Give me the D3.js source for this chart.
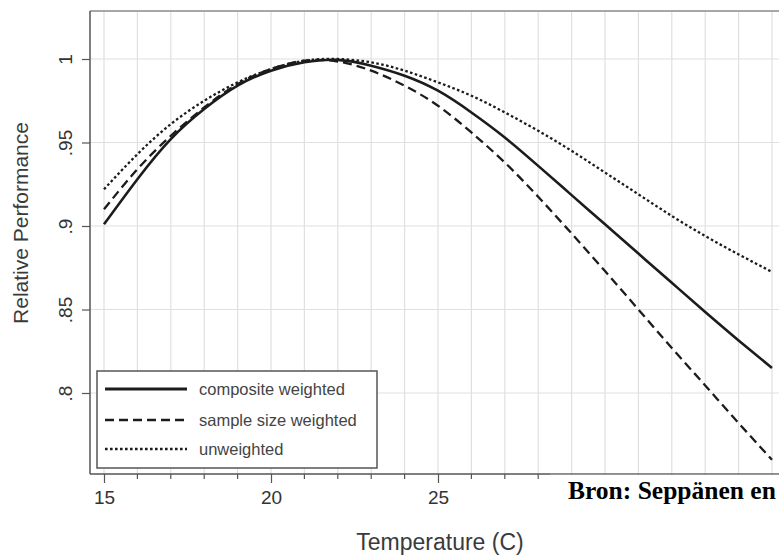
<!DOCTYPE html>
<html lang="en">
<head>
  <meta charset="UTF-8">
  <title>Relative Performance vs Temperature</title>
  <style>
    * { margin: 0; padding: 0; box-sizing: border-box; }
    body { background: #fff; width: 779px; height: 555px; overflow: hidden; }
    svg { display: block; font-family: "Liberation Sans", Arial, sans-serif; }
  </style>
</head>
<body>
  <div id="chart"></div>

  <script src="https://d3js.org/d3.v7.min.js"></script>
  <script>
    // values, one per degree
    const temps = [15, 16, 17, 18, 19, 20, 21, 22, 23, 24, 25, 26, 27, 28, 29, 30, 31, 32, 33, 34, 35];
    const composite = [0.901, 0.928, 0.952, 0.970, 0.984, 0.993, 0.998, 0.9995, 0.996, 0.990, 0.981,
                       0.968, 0.953, 0.936, 0.9185, 0.901, 0.8835, 0.866, 0.8485, 0.8315, 0.815];
    const sampleSize = [0.910, 0.934, 0.954, 0.971, 0.985, 0.994, 0.999, 0.9985, 0.993, 0.984, 0.972,
                        0.956, 0.938, 0.9175, 0.8955, 0.873, 0.850, 0.827, 0.8045, 0.782, 0.760];
    const unweighted = [0.922, 0.943, 0.961, 0.975, 0.986, 0.994, 0.999, 1.000, 0.998, 0.993, 0.986,
                        0.978, 0.968, 0.957, 0.945, 0.932, 0.919, 0.906, 0.894, 0.883, 0.8725];

    const seriesNames = ["composite weighted", "sample size weighted", "unweighted"];
    const yTicks = [0.8, 0.85, 0.9, 0.95, 1];
    const xLabelled = [15, 20, 25];   // 30 and 35 sit under the pasted note
    const xMinor = d3.range(15, 36);

    const width = 779, height = 555;
    const plotL = 90, plotT = 11, plotB = 474, plotR = 779;

    const svg = d3.select("#chart").append("svg")
      .attr("width", width)
      .attr("height", height);

    const x = d3.scaleLinear().domain([15, 35]).range([104, 772]);
    const y = d3.scaleLinear().domain([0.8, 1]).range([393, 59]);

    svg.append("defs").append("clipPath").attr("id", "plot")
      .append("rect")
      .attr("x", plotL).attr("y", plotT)
      .attr("width", plotR - plotL).attr("height", plotB - plotT);

    // grid
    const grid = svg.append("g").attr("stroke", "#e0e0e0").attr("stroke-width", 1.2);
    grid.selectAll(".v").data(xMinor).join("line")
      .attr("class", "v")
      .attr("x1", d => x(d)).attr("x2", d => x(d))
      .attr("y1", plotT).attr("y2", plotB);
    grid.selectAll(".h").data(yTicks).join("line")
      .attr("class", "h")
      .attr("x1", plotL).attr("x2", plotR)
      .attr("y1", d => y(d)).attr("y2", d => y(d));

    // frame top
    svg.append("line")
      .attr("x1", plotL).attr("x2", plotR).attr("y1", plotT).attr("y2", plotT)
      .attr("stroke", "#8a8a8a").attr("stroke-width", 1.5);

    // y axis
    const yAxis = svg.append("g")
      .attr("transform", `translate(${plotL},0)`)
      .call(d3.axisLeft(y).tickValues(yTicks).tickSize(8)
        .tickFormat(d => d === 1 ? "1" : d3.format(".2~f")(d).replace(/^0/, "")));
    yAxis.select(".domain").attr("stroke", "#555").attr("stroke-width", 1.5)
      .attr("d", `M0,${plotT}V${plotB}`);
    yAxis.selectAll(".tick line").attr("stroke", "#555").attr("stroke-width", 1.2);
    yAxis.selectAll(".tick text")
      .attr("x", null).attr("dy", null)
      .attr("transform", "translate(-18,0) rotate(-90)")
      .attr("text-anchor", "middle")
      .attr("fill", "#333")
      .style("font-size", "19px");

    // x axis
    const xAxis = svg.append("g")
      .attr("transform", `translate(0,${plotB})`)
      .call(d3.axisBottom(x).tickValues(xLabelled).tickSize(9).tickPadding(8).tickFormat(d3.format("d")));
    xAxis.select(".domain").attr("stroke", "#555").attr("stroke-width", 1.5)
      .attr("d", `M${plotL},0H${plotR}`);
    xAxis.selectAll(".tick line").attr("stroke", "#555").attr("stroke-width", 1.2);
    xAxis.selectAll(".tick text").attr("fill", "#333").style("font-size", "19px");
    xAxis.selectAll(".minor").data(xMinor.filter(d => !xLabelled.includes(d))).join("line")
      .attr("class", "minor")
      .attr("x1", d => x(d)).attr("x2", d => x(d))
      .attr("y1", 0).attr("y2", 5)
      .attr("stroke", "#555").attr("stroke-width", 1.2);

    // axis titles
    svg.append("text")
      .attr("transform", "translate(28,223) rotate(-90)")
      .attr("text-anchor", "middle")
      .attr("fill", "#3a3a3a")
      .style("font-size", "21px")
      .text("Relative Performance");
    svg.append("text")
      .attr("x", 440).attr("y", 550)
      .attr("text-anchor", "middle")
      .attr("fill", "#3a3a3a")
      .style("font-size", "23px")
      .text("Temperature (C)");

    // curves
    const styles = [
      { w: 2.6, dash: null },
      { w: 2.3, dash: "9,5" },
      { w: 2.3, dash: "2.6,2.4" }
    ];
    const seriesVals = [composite, sampleSize, unweighted];

    const line = d3.line()
      .x(d => x(d[0]))
      .y(d => y(d[1]))
      .curve(d3.curveNatural);

    svg.append("g").attr("clip-path", "url(#plot)")
      .selectAll("path")
      .data(seriesVals)
      .join("path")
      .attr("d", vals => line(temps.map((t, i) => [t, vals[i]])))
      .attr("fill", "none")
      .attr("stroke", "#1c1c1c")
      .attr("stroke-width", (d, i) => styles[i].w)
      .attr("stroke-dasharray", (d, i) => styles[i].dash);

    // legend
    const legend = svg.append("g");
    legend.append("rect")
      .attr("x", 97).attr("y", 371)
      .attr("width", 280).attr("height", 97)
      .attr("fill", "#fff")
      .attr("stroke", "#555").attr("stroke-width", 1.5);
    const rows = [389, 420, 449];
    seriesNames.forEach((name, i) => {
      legend.append("line")
        .attr("x1", 105).attr("x2", 187)
        .attr("y1", rows[i]).attr("y2", rows[i])
        .attr("stroke", "#1c1c1c")
        .attr("stroke-width", i === 0 ? 3.2 : 2.6)
        .attr("stroke-dasharray", styles[i].dash);
      legend.append("text")
        .attr("x", 199).attr("y", rows[i] + 6)
        .attr("fill", "#444")
        .style("font-size", "16.5px")
        .text(name);
    });

    // source note pasted over the lower right corner
    svg.append("rect")
      .attr("x", 550).attr("y", plotB + 0.8)
      .attr("width", width - 550).attr("height", height - plotB)
      .attr("fill", "#fff");
    svg.append("line")
      .attr("x1", 550).attr("x2", plotR).attr("y1", plotB).attr("y2", plotB)
      .attr("stroke", "#9a9a9a").attr("stroke-width", 1);
    svg.append("text")
      .attr("x", 568).attr("y", 499)
      .attr("fill", "#000")
      .style("font-family", "'Liberation Serif', 'Times New Roman', serif")
      .style("font-weight", "bold")
      .style("font-size", "25.5px")
      .text("Bron: Seppänen en");
  </script>
</body>
</html>
